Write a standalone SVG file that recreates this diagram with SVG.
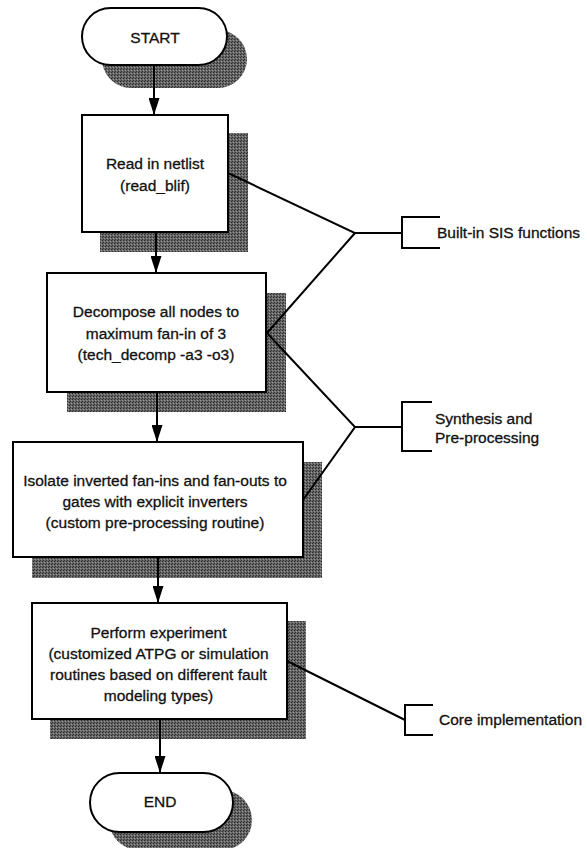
<svg xmlns="http://www.w3.org/2000/svg" width="587" height="848" viewBox="0 0 587 848">
  <defs>
    <style>
      .box { fill: #ffffff; stroke: #000000; stroke-width: 2; }
      .shadow { fill: url(#stipple); }
      .lbl { font-family: "Liberation Sans", Arial, sans-serif; font-size: 15.5px; fill: #111111; stroke: #111111; stroke-width: 0.3; }
      .mid { text-anchor: middle; }
      .wire { fill: none; stroke: #000000; stroke-width: 2; }
      .flow { fill: none; stroke: #000000; stroke-width: 2; marker-end: url(#head); }
    </style>
    <!-- halftone-like grey used for drop shadows -->
    <pattern id="stipple" width="3" height="3" patternUnits="userSpaceOnUse">
      <rect width="3" height="3" fill="#666666"/>
      <rect x="0" y="0" width="1" height="1" fill="#2a2a2a"/>
      <rect x="2" y="1" width="1" height="1" fill="#9a9a9a"/>
      <rect x="1" y="2" width="1" height="1" fill="#333333"/>
    </pattern>
    <marker id="head" markerUnits="userSpaceOnUse" viewBox="0 0 17 11" markerWidth="17" markerHeight="11" refX="17" refY="5.5" orient="auto">
      <path d="M0,0 L17,5.5 L0,11 Z" fill="#000000"/>
    </marker>
  </defs>

  <rect width="587" height="848" fill="#ffffff"/>

  <!-- START terminal -->
  <g id="start">
    <rect class="shadow" x="102" y="30" width="145" height="58" rx="29" ry="29"/>
    <rect class="box" x="82" y="8" width="145" height="57" rx="28.5" ry="28.5"/>
    <text class="lbl mid" x="155" y="43">START</text>
  </g>

  <!-- read_blif step -->
  <g id="read-netlist">
    <rect class="shadow" x="100" y="133" width="148" height="119"/>
    <rect class="box" x="82" y="115" width="146" height="117"/>
    <text class="lbl mid" x="155" y="169">Read in netlist</text>
    <text class="lbl mid" x="155" y="191">(read_blif)</text>
  </g>

  <!-- tech_decomp step -->
  <g id="decompose">
    <rect class="shadow" x="67" y="293" width="219" height="119"/>
    <rect class="box" x="47" y="273" width="219" height="119"/>
    <text class="lbl mid" x="156" y="317">Decompose all nodes to</text>
    <text class="lbl mid" x="156" y="338.5">maximum fan-in of 3</text>
    <text class="lbl mid" x="156" y="360">(tech_decomp -a3 -o3)</text>
  </g>

  <!-- inverter isolation step -->
  <g id="isolate">
    <rect class="shadow" x="32" y="462" width="290" height="116"/>
    <rect class="box" x="13" y="442" width="290" height="115"/>
    <text class="lbl mid" x="155" y="486">Isolate inverted fan-ins and fan-outs to</text>
    <text class="lbl mid" x="155" y="507">gates with explicit inverters</text>
    <text class="lbl mid" x="155" y="527.5">(custom pre-processing routine)</text>
  </g>

  <!-- experiment step -->
  <g id="experiment">
    <rect class="shadow" x="50" y="621" width="256" height="118"/>
    <rect class="box" x="32" y="603" width="255" height="116"/>
    <text class="lbl mid" x="158.5" y="637.5">Perform experiment</text>
    <text class="lbl mid" x="158.5" y="658.5">(customized ATPG or simulation</text>
    <text class="lbl mid" x="158.5" y="679.5">routines based on different fault</text>
    <text class="lbl mid" x="158.5" y="700.5">modeling types)</text>
  </g>

  <!-- END terminal -->
  <g id="end">
    <rect class="shadow" x="109" y="790" width="143" height="60" rx="30" ry="30"/>
    <rect class="box" x="90" y="773" width="143" height="59" rx="29.5" ry="29.5"/>
    <text class="lbl mid" x="160" y="807">END</text>
  </g>

  <!-- category brackets -->
  <g id="cat-builtin">
    <path class="wire" d="M440,217 H402 V248 H440"/>
    <text class="lbl" x="437" y="238">Built-in SIS functions</text>
  </g>
  <g id="cat-synthesis">
    <path class="wire" d="M432,402 H402 V451 H432"/>
    <text class="lbl" x="435" y="424">Synthesis and</text>
    <text class="lbl" x="435" y="443">Pre-processing</text>
  </g>
  <g id="cat-core">
    <path class="wire" d="M433,705 H405 V735 H433"/>
    <text class="lbl" x="439" y="725">Core implementation</text>
  </g>

  <!-- connectors -->
  <g id="connectors">
    <path class="flow" d="M154,65 V115"/>
    <path class="flow" d="M156,232 V273"/>
    <path class="flow" d="M157,392 V442"/>
    <path class="flow" d="M158,557 V603"/>
    <path class="flow" d="M160,719 V773"/>

    <path class="wire" d="M228,173 L355,233 L267,333"/>
    <path class="wire" d="M355,233 H402"/>
    <path class="wire" d="M267,333 L355,427 L303,500"/>
    <path class="wire" d="M355,427 H402"/>
    <path class="wire" d="M287,661 L405,720"/>
  </g>
</svg>
